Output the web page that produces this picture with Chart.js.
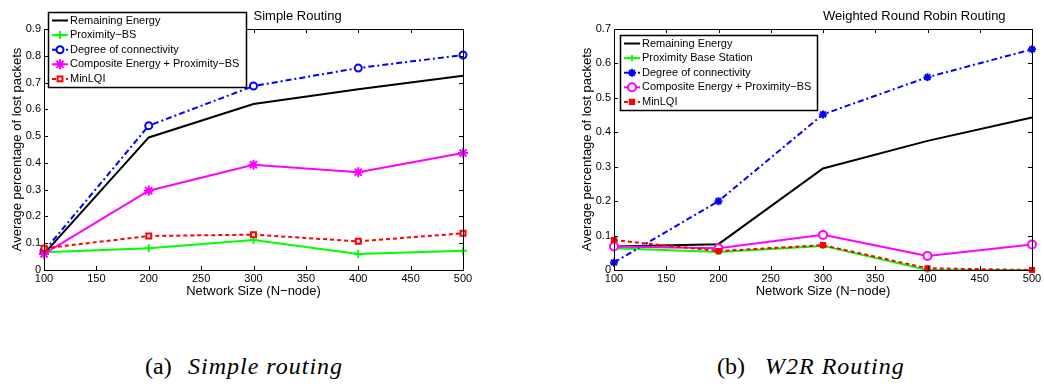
<!DOCTYPE html>
<html>
<head>
<meta charset="utf-8">
<script src="https://cdn.jsdelivr.net/npm/chart.js@4.4.0/dist/chart.umd.min.js"></script>
<style>
    body { margin: 0; background: #fff; width: 1044px; height: 387px; position: relative; overflow: hidden; }
    .plot { position: absolute; top: 0; height: 300px; }
    #simpleWrap { left: 0; width: 520px; }
    #w2rWrap { left: 570px; width: 474px; }
    .caption { position: absolute; top: 354px; font-family: 'Liberation Serif', 'DejaVu Serif', serif; font-size: 24px; line-height: 24px; color: #000; white-space: nowrap; }
    .caption.it { font-style: italic; letter-spacing: 1px; }
</style>
</head>
<body>
<div class="plot" id="simpleWrap"><canvas id="simpleChart"></canvas></div>
<div class="plot" id="w2rWrap"><canvas id="w2rChart"></canvas></div>
<div class="caption" style="left:145px">(a)</div>
<div class="caption it" style="left:188px">Simple routing</div>
<div class="caption" style="left:717px">(b)</div>
<div class="caption it" style="left:765px">W2R Routing</div>

<script>
// network sizes on the x axis
const nodeSizes = [100, 200, 300, 400, 500];

// (a) simple routing
const simpleEnergy    = [0.060, 0.495, 0.620, 0.675, 0.725];
const simpleProximity = [0.066, 0.081, 0.112, 0.060, 0.072];
const simpleDegree    = [0.070, 0.539, 0.687, 0.754, 0.803];
const simpleComposite = [0.060, 0.296, 0.393, 0.365, 0.437];
const simpleMinLQI    = [0.081, 0.127, 0.132, 0.107, 0.137];

// (b) weighted round robin routing
const w2rEnergy    = [0.068, 0.075, 0.295, 0.375, 0.443];
const w2rProximity = [0.063, 0.052, 0.070, 0.000, 0.000];
const w2rDegree    = [0.022, 0.200, 0.452, 0.560, 0.641];
const w2rComposite = [0.068, 0.063, 0.102, 0.041, 0.074];
const w2rMinLQI    = [0.087, 0.055, 0.072, 0.005, 0.000];

const FONT = "'Liberation Sans', Arial, sans-serif";

function pts(vals) {
    return nodeSizes.map((n, i) => ({ x: n, y: vals[i] }));
}

function ds(label, vals, color, style, opts) {
    return Object.assign({
        label: label,
        data: pts(vals),
        borderColor: color,
        borderWidth: 2,
        pointStyle: style,
        pointRadius: style ? 4 : 0,
        pointBorderColor: color,
        pointBackgroundColor: color,
        pointBorderWidth: 2,
        tension: 0,
        fill: false,
        clip: false
    }, opts || {});
}

// box with inward ticks on all four sides, like matlab
const framePlugin = {
    id: 'frame',
    afterDraw(chart) {
        const ctx = chart.ctx;
        const a = chart.chartArea;
        const xs = chart.scales.x, ys = chart.scales.y;
        ctx.save();
        ctx.strokeStyle = '#000';
        ctx.lineWidth = 1;
        ctx.beginPath();
        xs.ticks.forEach(t => {
            const px = Math.round(xs.getPixelForValue(t.value)) + 0.5;
            ctx.moveTo(px, a.bottom); ctx.lineTo(px, a.bottom - 4);
            ctx.moveTo(px, a.top); ctx.lineTo(px, a.top + 4);
        });
        ys.ticks.forEach(t => {
            const py = Math.round(ys.getPixelForValue(t.value)) + 0.5;
            ctx.moveTo(a.left, py); ctx.lineTo(a.left + 4, py);
            ctx.moveTo(a.right, py); ctx.lineTo(a.right - 4, py);
        });
        ctx.stroke();
        ctx.strokeRect(Math.round(a.left) + 0.5, Math.round(a.top) + 0.5, Math.round(a.right - a.left), Math.round(a.bottom - a.top));
        ctx.restore();
    }
};

// title starts at the middle of the plot
const titlePlugin = {
    id: 'plotTitle',
    afterDraw(chart, args, opts) {
        const ctx = chart.ctx;
        const a = chart.chartArea;
        ctx.save();
        ctx.fillStyle = '#000';
        ctx.font = '13px ' + FONT;
        ctx.textAlign = 'left';
        ctx.textBaseline = 'middle';
        ctx.fillText(opts.text, (a.left + a.right) / 2, 16);
        ctx.restore();
    }
};

// boxed legend at a fixed place
const boxLegendPlugin = {
    id: 'boxLegend',
    afterDraw(chart, args, opts) {
        const ctx = chart.ctx;
        const x0 = opts.x, y0 = opts.y;
        ctx.save();
        ctx.fillStyle = '#fff';
        ctx.fillRect(x0, y0, opts.w, opts.h);
        ctx.strokeStyle = '#000';
        ctx.lineWidth = 1.5;
        ctx.strokeRect(x0 + 0.5, y0 + 0.5, opts.w, opts.h);
        chart.data.datasets.forEach((d, i) => {
            const y = y0 + 8.5 + i * 14.6;
            ctx.strokeStyle = d.borderColor;
            ctx.lineWidth = 2;
            ctx.setLineDash(d.borderDash || []);
            ctx.beginPath();
            ctx.moveTo(x0 + 4, y);
            ctx.lineTo(x0 + 20, y);
            ctx.stroke();
            ctx.setLineDash([]);
            if (d.pointStyle) {
                ctx.fillStyle = d.pointBackgroundColor;
                ctx.strokeStyle = d.pointBorderColor;
                ctx.lineWidth = d.pointBorderWidth;
                Chart.helpers.drawPoint(ctx, { pointStyle: d.pointStyle, radius: d.pointRadius, rotation: 0, borderWidth: d.pointBorderWidth }, x0 + 12, y);
            }
            ctx.fillStyle = '#000';
            ctx.font = '11px ' + FONT;
            ctx.textAlign = 'left';
            ctx.textBaseline = 'middle';
            ctx.fillText(d.label, x0 + 22, y);
        });
        ctx.restore();
    }
};

function makeChart(id, yMax, datasets, title, legendPos, padRight) {
    // later series are drawn on top
    datasets.forEach((d, i) => { d.order = datasets.length - i; });
    return new Chart(document.getElementById(id), {
        type: 'line',
        data: { datasets: datasets },
        plugins: [framePlugin, titlePlugin, boxLegendPlugin],
        options: {
            responsive: true,
            maintainAspectRatio: false,
            animation: false,
            layout: { padding: { left: 0, right: padRight, top: 29, bottom: 0 } },
            plugins: {
                legend: { display: false },
                tooltip: { enabled: false },
                plotTitle: { text: title },
                boxLegend: legendPos
            },
            scales: {
                x: {
                    type: 'linear',
                    min: 100,
                    max: 500,
                    ticks: { stepSize: 50, padding: 2, maxRotation: 0, color: '#000', font: { family: FONT, size: 11 } },
                    grid: { display: false, drawTicks: false },
                    border: { display: false },
                    title: { display: true, text: 'Network Size (N\u2212node)', color: '#000', font: { family: FONT, size: 13 }, padding: { top: 0, bottom: 1 } },
                    afterFit: s => { s.height = 30; }
                },
                y: {
                    min: 0,
                    max: yMax,
                    ticks: { stepSize: 0.1, padding: 3, color: '#000', font: { family: FONT, size: 11 }, callback: v => String(+v.toFixed(1)) },
                    grid: { display: false, drawTicks: false },
                    border: { display: false },
                    title: { display: true, text: 'Average percentage of lost packets', color: '#000', font: { family: FONT, size: 13 }, padding: { top: 10, bottom: 0 } },
                    afterFit: s => { s.width = 44; }
                }
            }
        }
    });
}

function initCharts() {
    makeChart('simpleChart', 0.9, [
        ds('Remaining Energy', simpleEnergy, '#000000', false),
        ds('Proximity\u2212BS', simpleProximity, '#00ff00', 'cross'),
        ds('Degree of connectivity', simpleDegree, '#0000ff', 'circle', { borderDash: [6, 3, 2, 3], pointRadius: 3.5, pointBackgroundColor: '#fff' }),
        ds('Composite Energy + Proximity\u2212BS', simpleComposite, '#ff00ff', 'star', { pointRadius: 5 }),
        ds('MinLQI', simpleMinLQI, '#ff0000', 'rect', { borderDash: [4, 3], pointRadius: 3.5, pointBackgroundColor: '#fff' })
    ], 'Simple Routing', { x: 48, y: 12, w: 198, h: 75 }, 57);

    makeChart('w2rChart', 0.7, [
        ds('Remaining Energy', w2rEnergy, '#000000', false),
        ds('Proximity Base Station', w2rProximity, '#00ff00', 'cross', { pointRadius: 3 }),
        ds('Degree of connectivity', w2rDegree, '#0000ff', 'star', { borderDash: [6, 3, 2, 3] }),
        ds('Composite Energy + Proximity\u2212BS', w2rComposite, '#ff00ff', 'circle', { pointBackgroundColor: '#fff' }),
        ds('MinLQI', w2rMinLQI, '#ff0000', 'rect', { borderDash: [4, 3], pointRadius: 3 })
    ], 'Weighted Round Robin Routing', { x: 50, y: 35, w: 197, h: 75 }, 12);
}

if (document.readyState === 'loading') {
    document.addEventListener('DOMContentLoaded', initCharts);
} else {
    initCharts();
}
</script>
</body>
</html>
